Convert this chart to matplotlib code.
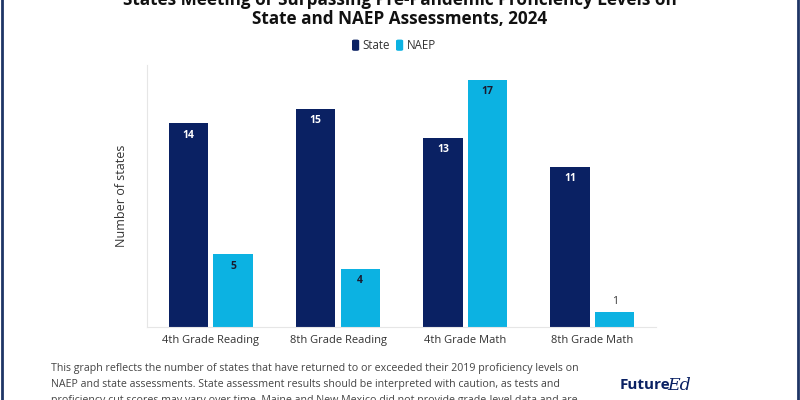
import numpy as np
import matplotlib.pyplot as plt
from matplotlib.patches import FancyBboxPatch
from matplotlib.lines import Line2D

categories = ['4th Grade Reading', '8th Grade Reading', '4th Grade Math', '8th Grade Math']
state = [14, 15, 13, 11]
naep = [5, 4, 17, 1]

navy = '#0a2163'
cyan = '#0cb2e2'

plt.rcParams['font.family'] = ['Open Sans', 'DejaVu Sans']

fig = plt.figure(figsize=(8, 4), dpi=100)
ax = fig.add_axes([0.184, 0.1825, 0.636, 0.655])

x = np.arange(len(categories))
w = 0.31
off = 0.175
ax.bar(x - off, state, w, color=navy)
ax.bar(x + off, naep, w, color=cyan)

for xi, v in zip(x, state):
    ax.text(xi - off, v - 0.45, str(v), ha='center', va='top', color='white',
            fontsize=7.5, fontweight='bold')
for xi, v in zip(x, naep):
    if v > 2:
        ax.text(xi + off, v - 0.45, str(v), ha='center', va='top', color='#1a1a2e',
                fontsize=7.5, fontweight='bold')
    else:
        ax.text(xi + off, v + 0.35, str(v), ha='center', va='bottom', color='#333333',
                fontsize=7.5)

ax.set_xlim(-0.5, 3.5)
ax.set_ylim(0, 18)
ax.set_xticks(x)
ax.set_xticklabels(categories, fontsize=8, color='#333333')
ax.set_yticks([])
ax.tick_params(axis='x', length=0, pad=6)
for s in ['top', 'right']:
    ax.spines[s].set_visible(False)
for s in ['left', 'bottom']:
    ax.spines[s].set_color('#e6e6e6')
    ax.spines[s].set_linewidth(0.8)
ax.set_ylabel('Number of states', fontsize=9, color='#333333', labelpad=14)

# title (top line partly cut off in the source)
fig.text(0.5, 1.0, 'States Meeting or Surpassing Pre-Pandemic Proficiency Levels on',
         ha='center', va='center', fontsize=12.3, fontweight='bold', color='#111111')
fig.text(0.5, 0.953, 'State and NAEP Assessments, 2024',
         ha='center', va='center', fontsize=12.3, fontweight='bold', color='#111111')

# legend
for xs, lab, c in [(0.440, 'State', navy), (0.495, 'NAEP', cyan)]:
    fig.patches.append(FancyBboxPatch((xs, 0.873), 0.009, 0.028, boxstyle='round,pad=0,rounding_size=0.003',
                                      transform=fig.transFigure, facecolor=c, edgecolor='none'))
    fig.text(xs + 0.013, 0.886, lab, ha='left', va='center', fontsize=8.3, color='#333333')

note = ['This graph reflects the number of states that have returned to or exceeded their 2019 proficiency levels on',
        'NAEP and state assessments. State assessment results should be interpreted with caution, as tests and',
        'proficiency cut scores may vary over time. Maine and New Mexico did not provide grade-level data and are']
for i, line in enumerate(note):
    fig.text(0.064, 0.08 - i * 0.04, line, ha='left', va='center', fontsize=7.7, color='#444444')

fig.text(0.774, 0.037, 'Future', ha='left', va='center', fontsize=11, fontweight='bold', color=navy)
fig.text(0.834, 0.037, 'Ed', ha='left', va='center', fontsize=12.5, style='italic',
         family='DejaVu Serif', color=navy)

fig.lines.append(Line2D([0.002, 0.002], [0, 1], transform=fig.transFigure, color='#1f3566', lw=2))
fig.lines.append(Line2D([0.997, 0.997], [0, 1], transform=fig.transFigure, color='#1f3566', lw=2))

fig.savefig('out.png', dpi=100, facecolor='white')
